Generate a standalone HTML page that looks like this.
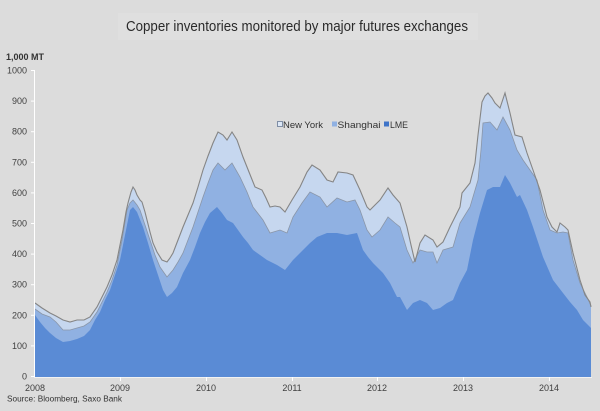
<!DOCTYPE html>
<html>
<head>
<meta charset="utf-8">
<style>
html,body{margin:0;padding:0;background:#dcdcdc;}
svg{display:block;}
text{font-family:"Liberation Sans",sans-serif;}
</style>
</head>
<body>
<svg width="600" height="411" viewBox="0 0 600 411" xmlns="http://www.w3.org/2000/svg">
<rect x="0" y="0" width="600" height="411" fill="#dcdcdc"/>
<rect x="118" y="13" width="360" height="27" fill="#dfdfdf"/>
<text x="126" y="31" font-size="15" fill="#2a2a2a" textLength="342" lengthAdjust="spacingAndGlyphs">Copper inventories monitored by major futures exchanges</text>

<text x="6" y="60" font-size="9" font-weight="bold" fill="#333">1,000 MT</text>

<!-- NY (total) -->
<polygon fill="#c6d7ef" stroke="none" points="35,377 35,303 42,308 50,313 56,316 63,320 70,322 77,320 84,320 90,317 97,307 102,297 107,287 112,275 117,260 120,245 123,230 126,212 128,203 131,192 133,187 135,190 137,195 140,200 142,202 145,212 147,220 150,232 153,243 157,252 162,260 167,262 170,258 173,253 178,240 183,227 188,215 193,203 198,187 203,170 208,156 213,143 218,132 223,135 227,140 232,132 237,140 243,157 249,172 255,187 262,190 266,198 270,207 275,206 280,207 285,212 292,200 300,187 307,172 312,165 320,170 327,180 333,182 338,172 347,173 353,175 360,190 367,207 370,210 375,205 380,200 388,188 393,195 400,203 407,227 411,245 415,262 420,243 425,235 433,240 437,247 443,242 450,227 455,217 460,207 462,193 470,183 475,163 478,135 482,102 485,96 488,93 492,98 495,103 500,108 505,93 510,113 515,135 522,137 527,153 533,170 540,190 547,217 552,227 557,232 560,223 565,227 568,230 573,253 580,280 585,295 590,302 591,307 591,377"/>
<!-- Shanghai -->
<polygon fill="#90b1e2" stroke="none" points="35,377 35,309 42,314 50,317 56,322 63,330 70,330 77,328 84,326 90,322 97,312 102,302 107,292 112,280 117,265 122,240 127,210 130,203 133,200 137,205 140,210 145,225 150,240 155,255 160,267 167,277 173,270 178,262 183,253 188,240 193,227 198,212 203,197 208,183 213,170 218,163 225,170 232,163 240,177 247,192 253,207 263,220 270,233 280,230 287,233 293,217 302,203 310,192 320,197 327,207 337,198 347,202 355,200 360,210 367,230 372,237 380,230 388,217 395,223 400,227 407,250 413,263 420,250 427,252 433,252 437,263 443,250 453,247 460,223 465,215 470,207 478,180 481,150 483,123 490,122 497,130 503,117 510,130 517,150 523,160 530,170 537,180 543,210 550,230 557,233 563,232 568,233 573,260 580,283 587,297 591,306 591,377"/>
<!-- LME -->
<polygon fill="#5a8bd5" stroke="none" points="35,377 35,315 40,322 45,328 50,333 56,338 63,342 70,341 77,339 84,336 90,330 95,320 100,312 105,300 110,290 115,275 120,260 125,235 130,210 133,207 137,212 143,227 148,243 153,260 158,275 163,290 167,297 172,293 177,287 183,273 190,260 195,247 200,233 205,222 210,213 217,207 222,213 227,220 233,223 238,230 243,237 248,243 253,250 260,255 267,260 277,265 285,270 293,260 303,250 310,243 317,237 327,233 337,233 347,235 357,233 363,250 368,257 373,263 383,273 390,283 397,297 400,297 407,310 413,303 420,300 427,303 433,310 440,308 447,303 453,300 460,283 467,270 473,240 480,213 487,190 493,187 500,187 505,175 510,183 517,197 520,195 527,210 533,227 543,257 553,280 563,293 570,302 577,310 583,320 591,328 591,377"/>
<!-- boundary strokes -->
<polyline fill="none" stroke="#8a96a8" stroke-width="0.8" points="35,309 42,314 50,317 56,322 63,330 70,330 77,328 84,326 90,322 97,312 102,302 107,292 112,280 117,265 122,240 127,210 130,203 133,200 137,205 140,210 145,225 150,240 155,255 160,267 167,277 173,270 178,262 183,253 188,240 193,227 198,212 203,197 208,183 213,170 218,163 225,170 232,163 240,177 247,192 253,207 263,220 270,233 280,230 287,233 293,217 302,203 310,192 320,197 327,207 337,198 347,202 355,200 360,210 367,230 372,237 380,230 388,217 395,223 400,227 407,250 413,263 420,250 427,252 433,252 437,263 443,250 453,247 460,223 465,215 470,207 478,180 481,150 483,123 490,122 497,130 503,117 510,130 517,150 523,160 530,170 537,180 543,210 550,230 557,233 563,232 568,233 573,260 580,283 587,297 591,306"/>
<polyline fill="none" stroke="#858585" stroke-width="1.1" points="35,303 42,308 50,313 56,316 63,320 70,322 77,320 84,320 90,317 97,307 102,297 107,287 112,275 117,260 120,245 123,230 126,212 128,203 131,192 133,187 135,190 137,195 140,200 142,202 145,212 147,220 150,232 153,243 157,252 162,260 167,262 170,258 173,253 178,240 183,227 188,215 193,203 198,187 203,170 208,156 213,143 218,132 223,135 227,140 232,132 237,140 243,157 249,172 255,187 262,190 266,198 270,207 275,206 280,207 285,212 292,200 300,187 307,172 312,165 320,170 327,180 333,182 338,172 347,173 353,175 360,190 367,207 370,210 375,205 380,200 388,188 393,195 400,203 407,227 411,245 415,262 420,243 425,235 433,240 437,247 443,242 450,227 455,217 460,207 462,193 470,183 475,163 478,135 482,102 485,96 488,93 492,98 495,103 500,108 505,93 510,113 515,135 522,137 527,153 533,170 540,190 547,217 552,227 557,232 560,223 565,227 568,230 573,253 580,280 585,295 590,302 591,307"/>

<!-- axes -->
<line x1="34.5" y1="70" x2="34.5" y2="377" stroke="#ffffff" stroke-width="1"/>
<line x1="34" y1="377.5" x2="592" y2="377.5" stroke="#f2f2f2" stroke-width="1"/>
<g stroke="#ffffff" stroke-width="1">
<line x1="31" y1="70.5" x2="34" y2="70.5"/>
<line x1="31" y1="101.1" x2="34" y2="101.1"/>
<line x1="31" y1="131.7" x2="34" y2="131.7"/>
<line x1="31" y1="162.3" x2="34" y2="162.3"/>
<line x1="31" y1="192.9" x2="34" y2="192.9"/>
<line x1="31" y1="223.5" x2="34" y2="223.5"/>
<line x1="31" y1="254.1" x2="34" y2="254.1"/>
<line x1="31" y1="284.7" x2="34" y2="284.7"/>
<line x1="31" y1="315.3" x2="34" y2="315.3"/>
<line x1="31" y1="345.9" x2="34" y2="345.9"/>
<line x1="31" y1="376.5" x2="34" y2="376.5"/>
<line x1="120.5" y1="377" x2="120.5" y2="381"/>
<line x1="206.5" y1="377" x2="206.5" y2="381"/>
<line x1="292.5" y1="377" x2="292.5" y2="381"/>
<line x1="377.5" y1="377" x2="377.5" y2="381"/>
<line x1="463.5" y1="377" x2="463.5" y2="381"/>
<line x1="549.5" y1="377" x2="549.5" y2="381"/>
</g>
<g font-size="9" fill="#404040" text-anchor="end">
<text x="27" y="73.5">1000</text>
<text x="27" y="104">900</text>
<text x="27" y="134.7">800</text>
<text x="27" y="165.3">700</text>
<text x="27" y="195.9">600</text>
<text x="27" y="226.5">500</text>
<text x="27" y="257.1">400</text>
<text x="27" y="287.7">300</text>
<text x="27" y="318.3">200</text>
<text x="27" y="348.9">100</text>
<text x="27" y="379.5">0</text>
</g>
<g font-size="9" fill="#404040" text-anchor="middle">
<text x="35" y="391">2008</text>
<text x="120" y="391">2009</text>
<text x="206" y="391">2010</text>
<text x="292" y="391">2011</text>
<text x="377" y="391">2012</text>
<text x="463" y="391">2013</text>
<text x="549" y="391">2014</text>
</g>
<text x="7" y="401.5" font-size="8" fill="#333" textLength="115" lengthAdjust="spacingAndGlyphs">Source: Bloomberg, Saxo Bank</text>

<!-- legend -->
<rect x="277.5" y="121.5" width="5" height="5" fill="#dde8f7" stroke="#7f8ea5" stroke-width="1"/>
<text x="283" y="128" font-size="9.5" fill="#333" textLength="40" lengthAdjust="spacingAndGlyphs">New York</text>
<rect x="332" y="121.5" width="5" height="5" fill="#90b1e2"/>
<text x="337.5" y="128" font-size="9.5" fill="#333" textLength="43" lengthAdjust="spacingAndGlyphs">Shanghai</text>
<rect x="384" y="121.5" width="5" height="5" fill="#3f74c8"/>
<text x="390" y="128" font-size="9.5" fill="#333" textLength="18" lengthAdjust="spacingAndGlyphs">LME</text>
</svg>
</body>
</html>
